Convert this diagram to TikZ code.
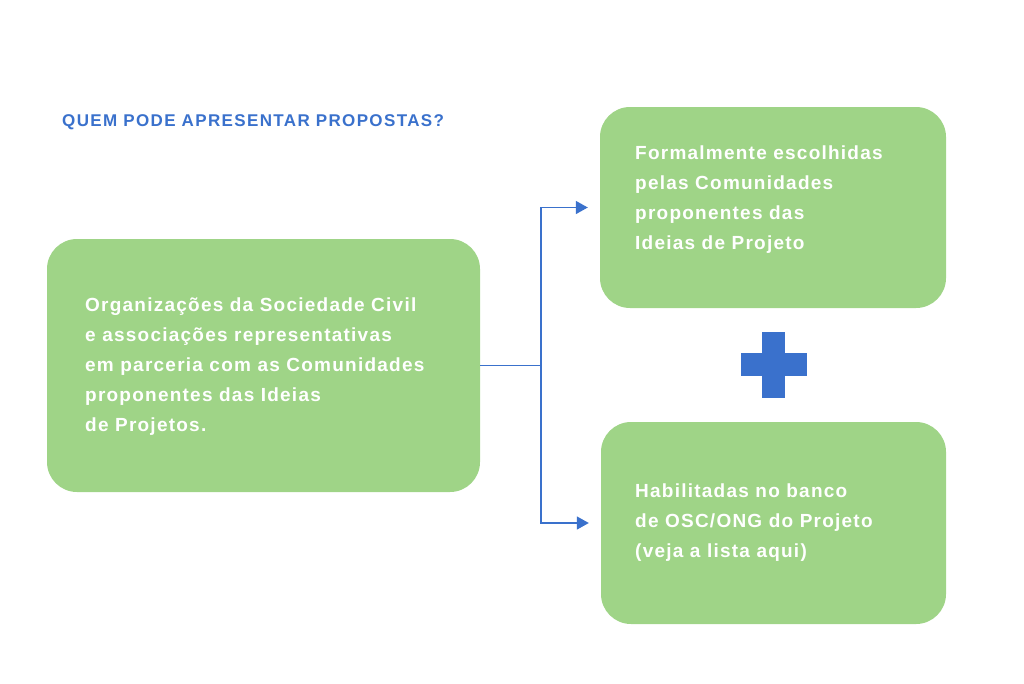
\documentclass[tikz,border=0pt]{standalone}
\usepackage{fontspec}
\setmainfont{Liberation Sans}[LetterSpace=6.5]
\usetikzlibrary{arrows.meta}
\definecolor{boxgreen}{HTML}{9FD487}
\definecolor{plusblue}{HTML}{3A71CC}
\tikzset{
  greenbox/.style={fill=boxgreen, rounded corners=30pt, inner sep=0pt},
  boxtext/.style={anchor=west, align=left, text=white, font=\fontsize{19}{30}\selectfont\bfseries, inner sep=0pt},
  conn/.style={draw=plusblue, line width=1.5pt},
  arrow/.style={conn, -{Triangle[length=12pt,width=13pt]}, shorten >=12pt}
}
\begin{document}
\begin{tikzpicture}[x=1pt, y=-1pt]
\useasboundingbox (0,0) rectangle (1024,683);
% Title
\node[anchor=west, inner sep=0pt, text=plusblue, font=\fontsize{17}{20}\selectfont\bfseries\addfontfeature{LetterSpace=8}] (title) at (62,122) {QUEM PODE APRESENTAR PROPOSTAS?};

% Boxes
\node[greenbox, minimum width=433pt, minimum height=253pt] (orgs) at (263.5,365.5) {};
\node[boxtext] (orgstext) at (85,367) {Organizações da Sociedade Civil\\e associações representativas\\em parceria com as Comunidades\\proponentes das Ideias\\de Projetos.};
\node[greenbox, minimum width=346pt, minimum height=201pt] (formal) at (773,207.5) {};
\node[boxtext] (formaltext) at (635,200) {Formalmente escolhidas\\pelas Comunidades\\proponentes das\\Ideias de Projeto};
\node[greenbox, minimum width=345pt, minimum height=202pt] (banco) at (773.5,523) {};
\node[boxtext] (bancotext) at (635,523) {Habilitadas no banco\\de OSC/ONG do Projeto\\(veja a lista aqui)};

% Connectors
\draw[conn] (orgs.east) -- ++(61,0) coordinate (split);
\draw[arrow] (split) |- (formal.west);
\draw[arrow] (split) |- (banco.west);

% Plus sign
\fill[plusblue] (741,353) rectangle (807,376);
\fill[plusblue] (762,332) rectangle (785,398);
\end{tikzpicture}
\end{document}
